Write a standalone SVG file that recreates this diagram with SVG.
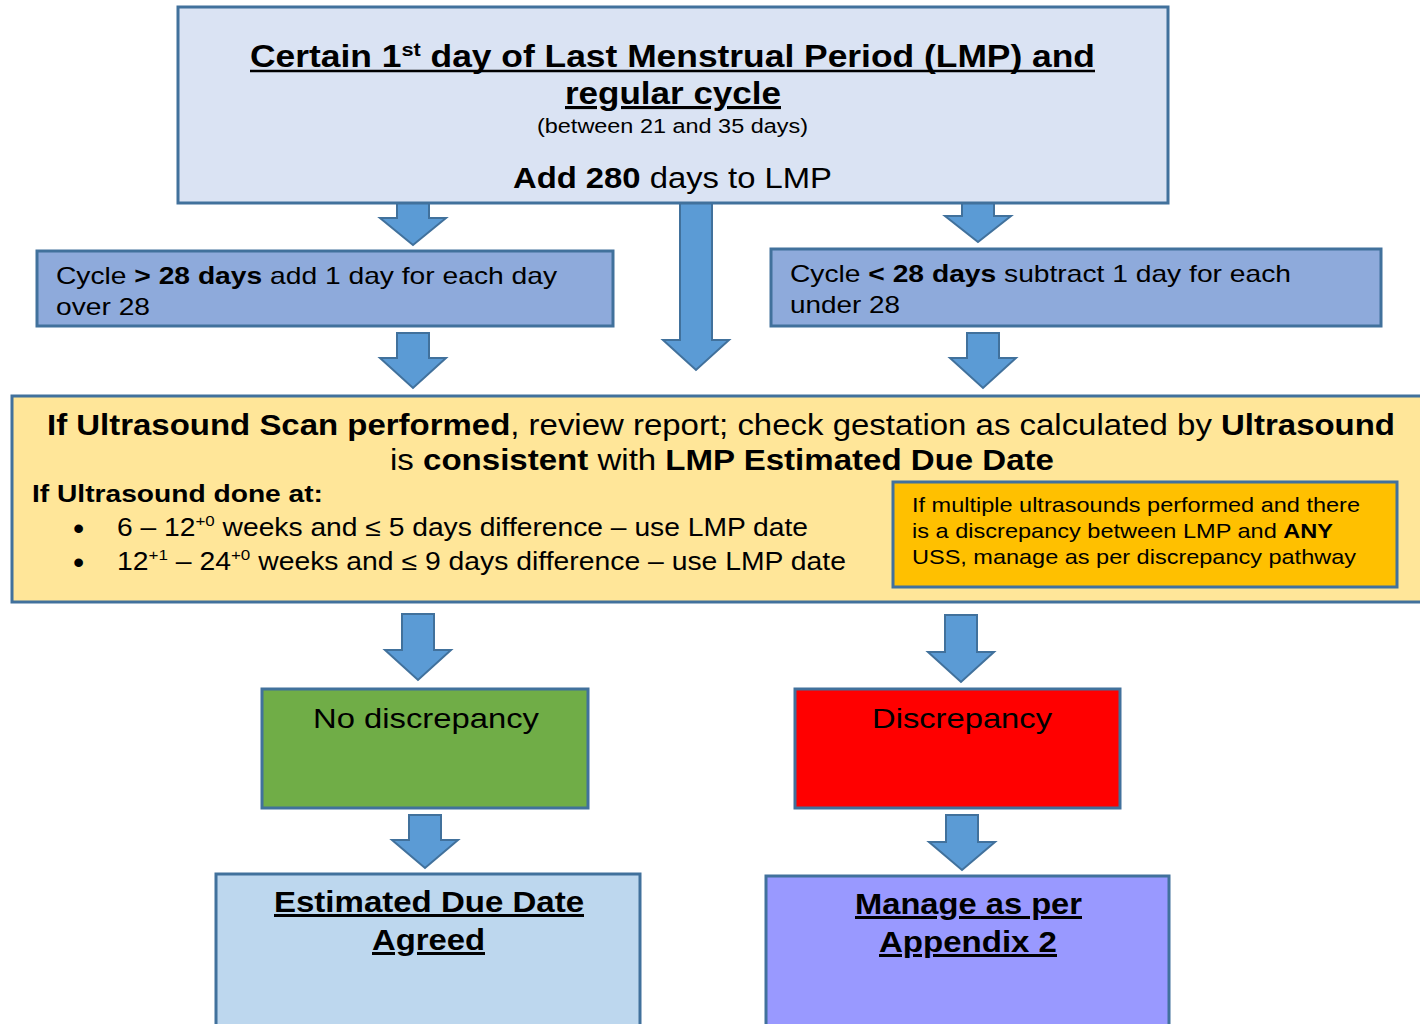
<svg xmlns="http://www.w3.org/2000/svg" width="1420" height="1024" viewBox="0 0 1420 1024">
<style>
text{font-family:"Liberation Sans",Arial,sans-serif;fill:#000}
.b{font-weight:bold}
.u{text-decoration:underline}
.box{stroke:#41719c;stroke-width:3}
.arr{fill:#5b9bd5;stroke:#41719c;stroke-width:2}
</style>
<rect width="1420" height="1024" fill="#fff"/>
<g id="connectors">
<path class="arr" d="M397,203 H429 V218 H446 L413,245 L380,218 H397 Z"/>
<path class="arr" d="M680,203 H712 V340 H729 L696,370 L663,340 H680 Z"/>
<path class="arr" d="M962,203 H994 V216 H1011 L978,242 L945,216 H962 Z"/>
<path class="arr" d="M397,333 H429 V358 H446 L413,388 L380,358 H397 Z"/>
<path class="arr" d="M967,333 H999 V358 H1016 L983,388 L950,358 H967 Z"/>
<path class="arr" d="M402,614 H434 V650 H451 L418,680 L385,650 H402 Z"/>
<path class="arr" d="M945,615 H977 V652 H994 L961,682 L928,652 H945 Z"/>
<path class="arr" d="M409,815 H441 V840 H458 L425,868 L392,840 H409 Z"/>
<path class="arr" d="M946,815 H978 V842 H995 L962,870 L929,842 H946 Z"/>
</g>
<g id="lmp">
<rect class="box" x="178" y="7" width="990" height="196" fill="#dae3f3"/>
<text class="b" x="250" y="67" font-size="31" textLength="845" lengthAdjust="spacingAndGlyphs">Certain 1<tspan font-size="19" dy="-11">st</tspan><tspan dy="11"> day of Last Menstrual Period (LMP) and</tspan></text>
<line x1="250" y1="71" x2="1095" y2="71" stroke="#000" stroke-width="2.5"/>
<text class="b u" x="565" y="104" font-size="31" textLength="216" lengthAdjust="spacingAndGlyphs">regular cycle</text>
<text x="537" y="133" font-size="20" textLength="271" lengthAdjust="spacingAndGlyphs">(between 21 and 35 days)</text>
<text x="513" y="188" font-size="29" textLength="319" lengthAdjust="spacingAndGlyphs"><tspan class="b">Add 280</tspan> days to LMP</text>
</g>
<g id="cycle-over">
<rect class="box" x="37" y="251" width="576" height="75" fill="#8eaadb"/>
<text x="56" y="284" font-size="24" textLength="501" lengthAdjust="spacingAndGlyphs">Cycle <tspan class="b">&gt; 28 days</tspan> add 1 day for each day</text>
<text x="56" y="315" font-size="24" textLength="94" lengthAdjust="spacingAndGlyphs">over 28</text>
</g>
<g id="cycle-under">
<rect class="box" x="771" y="249" width="610" height="77" fill="#8eaadb"/>
<text x="790" y="282" font-size="24" textLength="501" lengthAdjust="spacingAndGlyphs">Cycle <tspan class="b">&lt; 28 days</tspan> subtract 1 day for each</text>
<text x="790" y="313" font-size="24" textLength="110" lengthAdjust="spacingAndGlyphs">under 28</text>
</g>
<g id="ultrasound">
<rect class="box" x="12" y="396" width="1412" height="206" fill="#ffe699"/>
<text x="47" y="435" font-size="30" textLength="1348" lengthAdjust="spacingAndGlyphs"><tspan class="b">If Ultrasound Scan performed</tspan>, review report; check gestation as calculated by <tspan class="b">Ultrasound</tspan></text>
<text x="390" y="470" font-size="30" textLength="664" lengthAdjust="spacingAndGlyphs">is <tspan class="b">consistent</tspan> with <tspan class="b">LMP Estimated Due Date</tspan></text>
<text class="b" x="32" y="502" font-size="24" textLength="291" lengthAdjust="spacingAndGlyphs">If Ultrasound done at:</text>
<text x="73" y="539" font-size="32">•</text>
<text x="73" y="573" font-size="32">•</text>
<text x="117" y="536" font-size="25" textLength="691" lengthAdjust="spacingAndGlyphs">6 – 12<tspan font-size="15" dy="-10">+0</tspan><tspan dy="10"> weeks and ≤ 5 days difference – use LMP date</tspan></text>
<text x="117" y="570" font-size="25" textLength="729" lengthAdjust="spacingAndGlyphs">12<tspan font-size="15" dy="-10">+1</tspan><tspan dy="10"> – 24</tspan><tspan font-size="15" dy="-10">+0</tspan><tspan dy="10"> weeks and ≤ 9 days difference – use LMP date</tspan></text>
</g>
<g id="multiple">
<rect class="box" x="893" y="482" width="504" height="105" fill="#ffc000" stroke="#5a7a96"/>
<text x="912" y="512" font-size="21" textLength="448" lengthAdjust="spacingAndGlyphs">If multiple ultrasounds performed and there</text>
<text x="912" y="538" font-size="21" textLength="421" lengthAdjust="spacingAndGlyphs">is a discrepancy between LMP and <tspan class="b">ANY</tspan></text>
<text x="912" y="564" font-size="21" textLength="444" lengthAdjust="spacingAndGlyphs">USS, manage as per discrepancy pathway</text>
</g>
<g id="no-discrepancy">
<rect class="box" x="262" y="689" width="326" height="119" fill="#70ad47"/>
<text x="313" y="728" font-size="28" textLength="226" lengthAdjust="spacingAndGlyphs">No discrepancy</text>
</g>
<g id="discrepancy">
<rect class="box" x="795" y="689" width="325" height="119" fill="#ff0000"/>
<text x="872" y="728" font-size="28" textLength="180" lengthAdjust="spacingAndGlyphs">Discrepancy</text>
</g>
<g id="edd">
<rect class="box" x="216" y="874" width="424" height="160" fill="#bdd7ee"/>
<text class="b u" x="274" y="912" font-size="30" textLength="310" lengthAdjust="spacingAndGlyphs">Estimated Due Date</text>
<text class="b u" x="372" y="950" font-size="30" textLength="113" lengthAdjust="spacingAndGlyphs">Agreed</text>
</g>
<g id="appendix">
<rect class="box" x="766" y="876" width="403" height="160" fill="#9999ff"/>
<text class="b u" x="855" y="914" font-size="30" textLength="227" lengthAdjust="spacingAndGlyphs">Manage as per</text>
<text class="b u" x="879" y="952" font-size="30" textLength="178" lengthAdjust="spacingAndGlyphs">Appendix 2</text>
</g>
</svg>
